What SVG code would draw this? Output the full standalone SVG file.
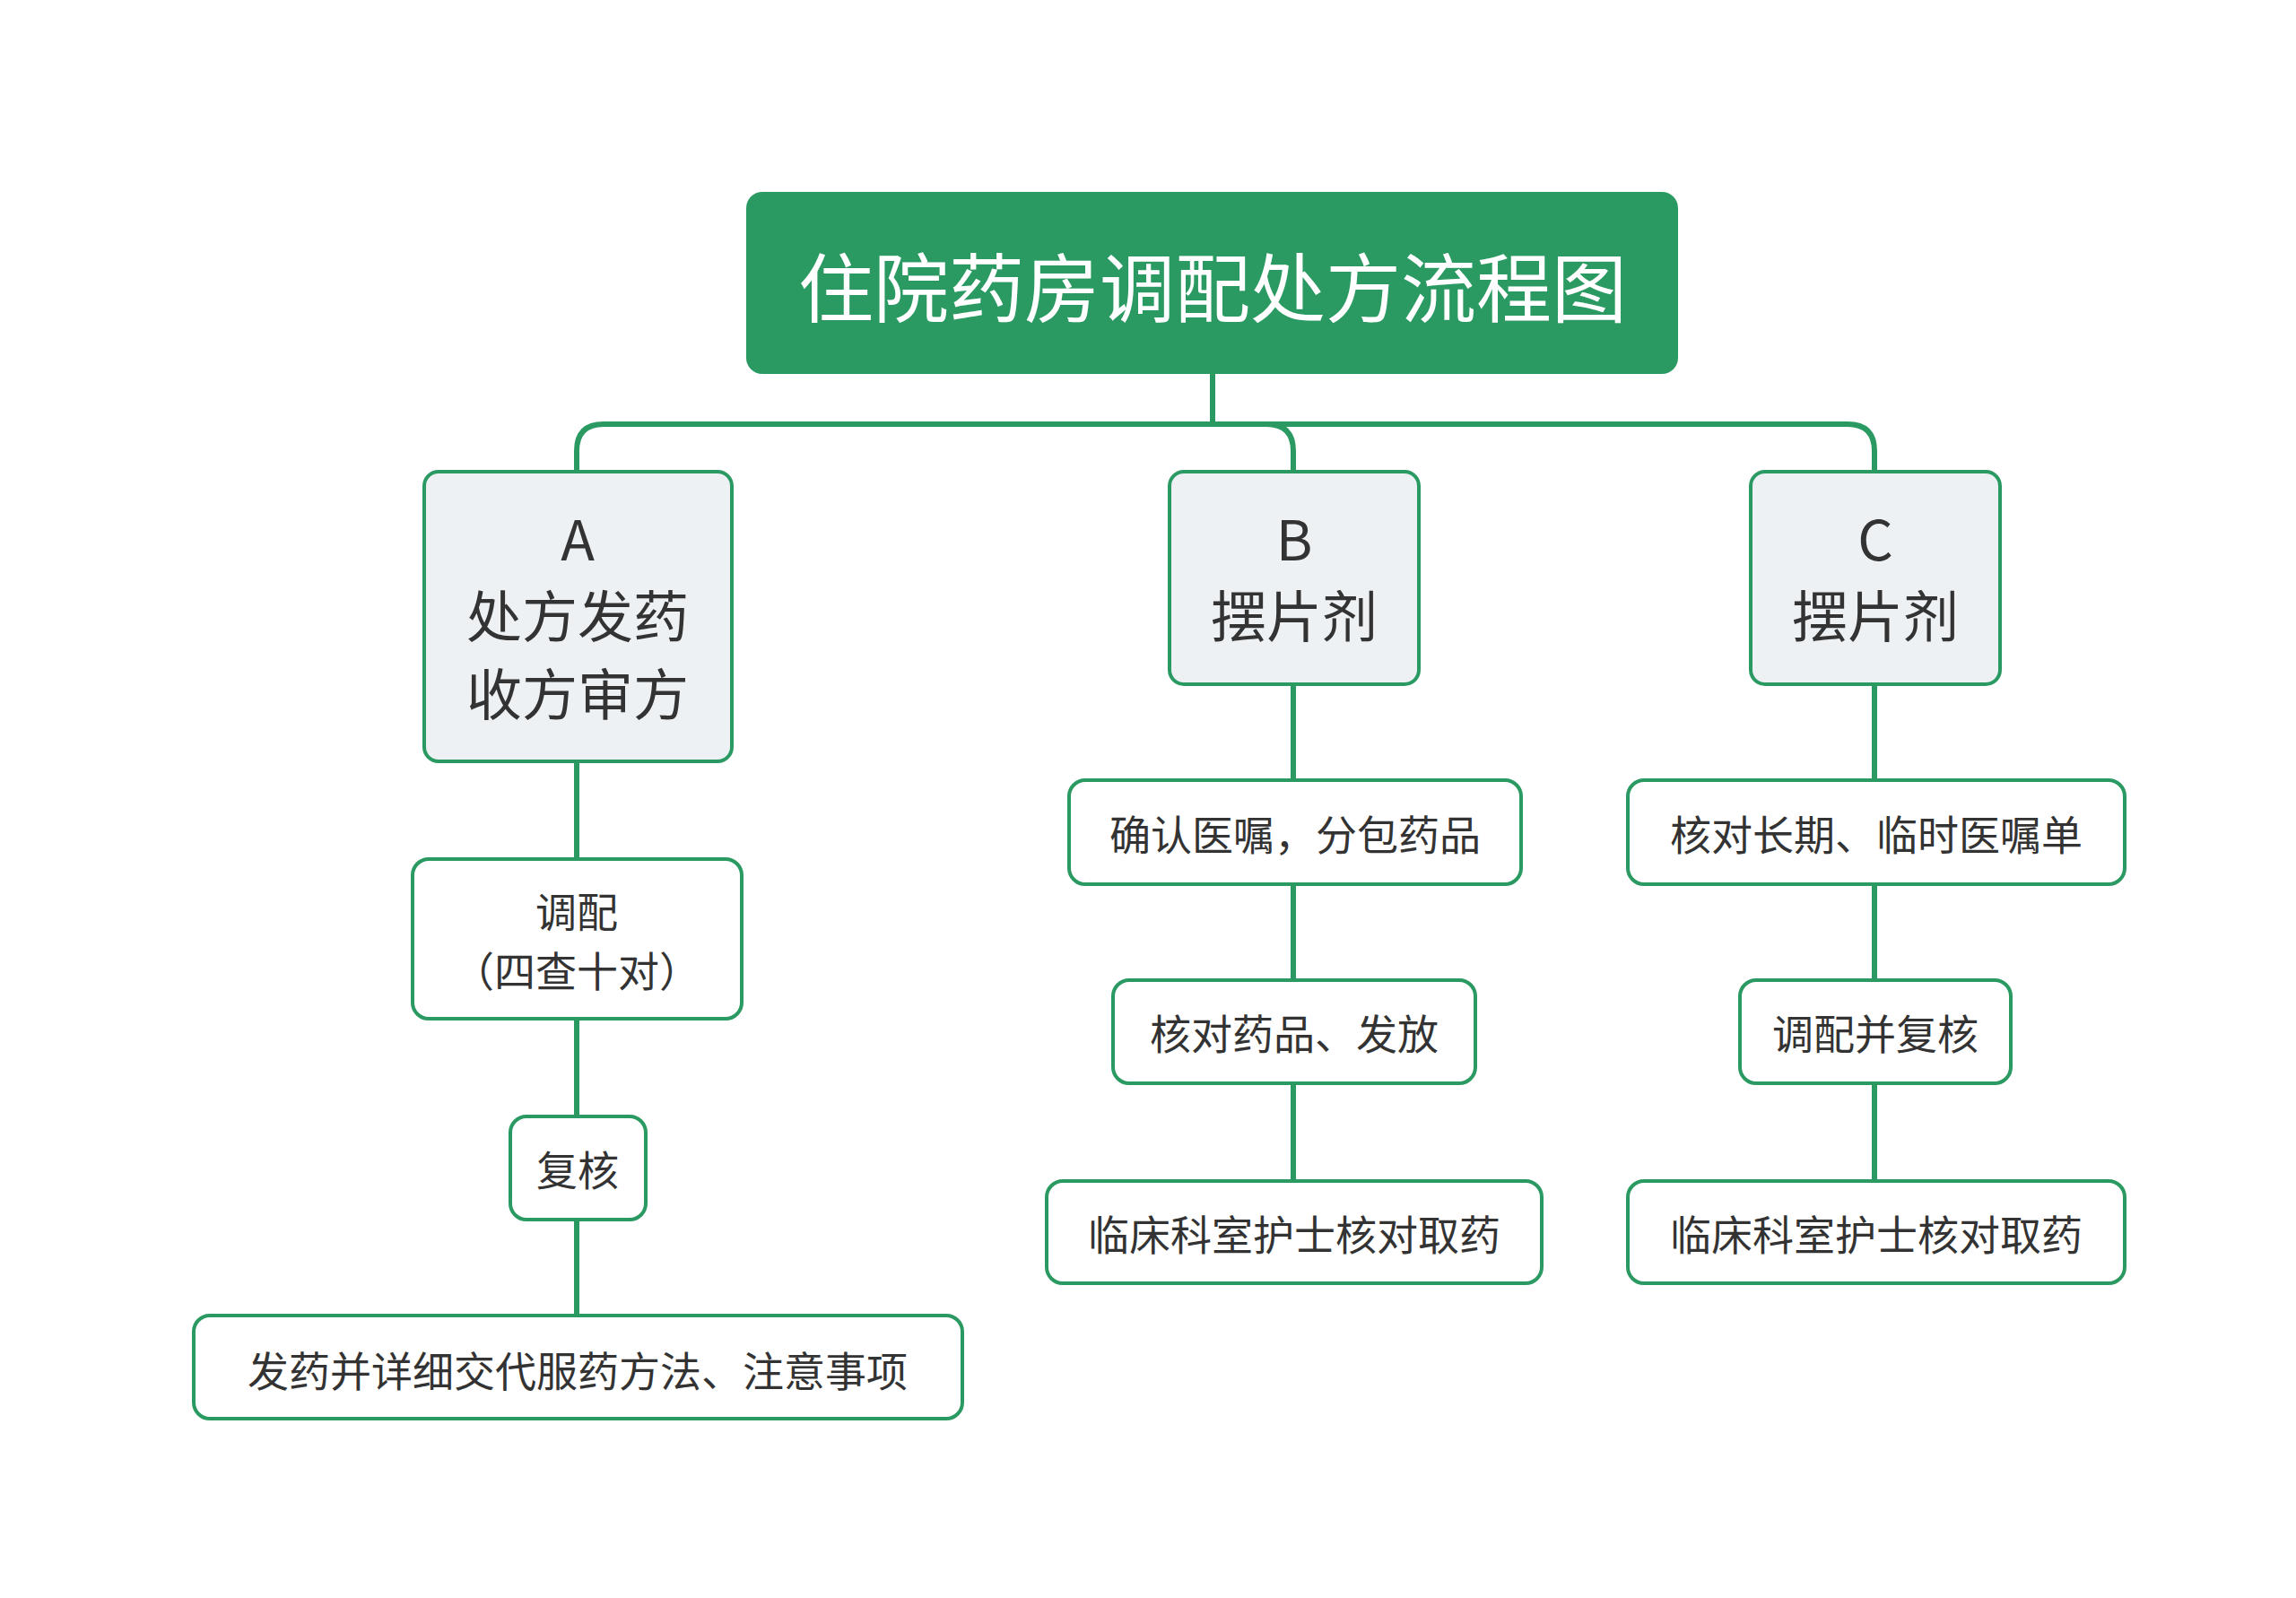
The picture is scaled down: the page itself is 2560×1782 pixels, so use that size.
<svg xmlns="http://www.w3.org/2000/svg" width="2560" height="1782" viewBox="0 0 2560 1782">
<style>
.c{fill:none;stroke:#2a9a62;stroke-width:6}
.m{fill:#eef1f4;stroke:#2a9a62;stroke-width:4}
.s{fill:#fff;stroke:#2a9a62;stroke-width:4}
text{font-family:"Noto Sans CJK SC","Noto Sans",sans-serif;fill:#333;text-anchor:middle;dominant-baseline:central}
.t1{font-size:62px}
.t2{font-size:46px}
</style>
<rect width="2560" height="1782" fill="#fff"/>
<g id="connectors">
<path class="c" d="M1352 417V473H673Q643 473 643 503V526M1352 473H1412Q1442 473 1442 503V526M1352 473H2060Q2090 473 2090 503V526"/>
<path class="c" d="M643 849V1467M1442 763V1317M2090 763V1317"/>
</g>
<g id="root"><rect x="832" y="214" width="1039" height="203" rx="18" fill="#2a9a62"/><text x="1352" y="316" style="font-size:84px;fill:#fff">住院药房调配处方流程图</text></g>
<g id="A"><rect class="m" x="473" y="526" width="343" height="323" rx="16"/><text class="t1" x="644" y="598">A</text><text class="t1" x="644" y="684">处方发药</text><text class="t1" x="644" y="771">收方审方</text></g>
<g id="B"><rect class="m" x="1304" y="526" width="278" height="237" rx="16"/><text class="t1" x="1443" y="598">B</text><text class="t1" x="1443" y="684">摆片剂</text></g>
<g id="C"><rect class="m" x="1952" y="526" width="278" height="237" rx="16"/><text class="t1" x="2091" y="598">C</text><text class="t1" x="2091" y="684">摆片剂</text></g>
<g id="A1"><rect class="s" x="460" y="958" width="367" height="178" rx="18"/><text class="t2" x="643" y="1014">调配</text><text class="t2" x="643" y="1080">（四查十对）</text></g>
<g id="A2"><rect class="s" x="569" y="1245" width="151" height="115" rx="18"/><text class="t2" x="644" y="1302">复核</text></g>
<g id="A3"><rect class="s" x="216" y="1467" width="857" height="115" rx="18"/><text class="t2" x="644" y="1526">发药并详细交代服药方法、注意事项</text></g>
<g id="B1"><rect class="s" x="1192" y="870" width="504" height="116" rx="18"/><text class="t2" x="1444" y="928">确认医嘱，分包药品</text></g>
<g id="B2"><rect class="s" x="1241" y="1093" width="404" height="115" rx="18"/><text class="t2" x="1443" y="1150">核对药品、发放</text></g>
<g id="B3"><rect class="s" x="1167" y="1317" width="552" height="114" rx="18"/><text class="t2" x="1443" y="1374">临床科室护士核对取药</text></g>
<g id="C1"><rect class="s" x="1815" y="870" width="554" height="116" rx="18"/><text class="t2" x="2092" y="928">核对长期、临时医嘱单</text></g>
<g id="C2"><rect class="s" x="1940" y="1093" width="302" height="115" rx="18"/><text class="t2" x="2091" y="1150">调配并复核</text></g>
<g id="C3"><rect class="s" x="1815" y="1317" width="554" height="114" rx="18"/><text class="t2" x="2092" y="1374">临床科室护士核对取药</text></g>
</svg>
